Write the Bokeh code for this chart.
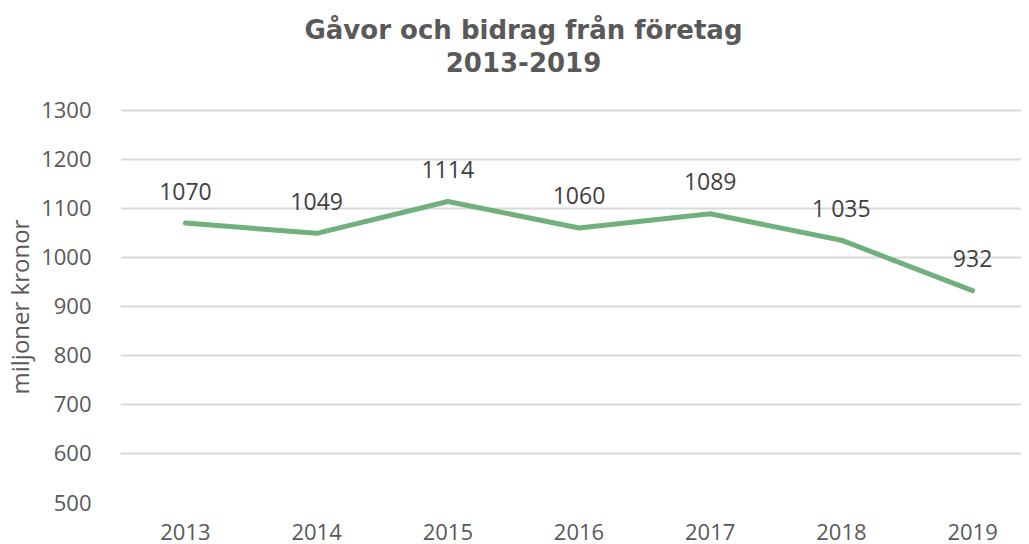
from bokeh.plotting import figure
from bokeh.models import Range1d, FixedTicker, Label, Title, ColumnDataSource
from bokeh.core.properties import value
from bokeh.embed import file_html
from bokeh.resources import INLINE

title_line1 = "Gåvor och bidrag från företag"
title_line2 = "2013-2019"
y_title = "miljoner kronor"
years = ["2013", "2014", "2015", "2016", "2017", "2018", "2019"]
values = [1070, 1049, 1114, 1060, 1089, 1035, 932]
value_labels = ["1070", "1049", "1114", "1060", "1089", "1 035", "932"]
y_ticks = [500, 600, 700, 800, 900, 1000, 1100, 1200, 1300]

idx = list(range(len(years)))
src = ColumnDataSource(dict(x=idx, y=values, lab=value_labels))

# frame extends up to the top of the canvas; the title sits in the empty space above 1300
p = figure(width=1021, height=542, output_backend="svg", toolbar_location=None,
           x_range=Range1d(-0.495, 6.373), y_range=Range1d(500, 1523.9),
           min_border_left=119, min_border_right=0, min_border_top=0, min_border_bottom=39)
p.outline_line_color = None
p.background_fill_color = "white"
p.border_fill_color = "white"

for txt, yy in ((title_line1, 473), (title_line2, 441)):
    p.add_layout(Label(x=403, y=yy, x_units="screen", y_units="screen", text=txt,
                       text_align="center", text_baseline="middle",
                       text_font="DejaVu Sans", text_font_style="bold",
                       text_font_size="26px", text_color="#595959"))

p.line("x", "y", source=src, line_color="#70B07C", line_width=5, line_cap="round", line_join="round")
p.text("x", "y", text="lab", source=src, text_align="center", text_baseline="middle",
       y_offset=-32, text_font=value("Open Sans"), text_font_size="23px", text_color="#404040")

p.xgrid.grid_line_color = None
p.ygrid.grid_line_color = "#d9d9d9"
p.ygrid.grid_line_width = 2
p.yaxis.ticker = FixedTicker(ticks=y_ticks)
p.xaxis.ticker = FixedTicker(ticks=idx)
p.xaxis.major_label_overrides = {i: y for i, y in zip(idx, years)}

for ax in (p.xaxis, p.yaxis):
    ax.axis_line_color = None
    ax.major_tick_line_color = None
    ax.minor_tick_line_color = None
    ax.major_label_text_font = "Open Sans"
    ax.major_label_text_font_size = "22px"
    ax.major_label_text_color = "#595959"
p.yaxis.major_label_standoff = 23
p.xaxis.major_label_standoff = 15

# y-axis title, centred on the 500-1300 span rather than the whole frame
p.add_layout(Title(text=y_title, align="left", offset=108, vertical_align="middle", standoff=3,
                   text_font="Open Sans", text_font_style="normal", text_font_size="24px",
                   text_color="#595959"), "left")

open("out.html", "w").write(file_html(p, INLINE))
